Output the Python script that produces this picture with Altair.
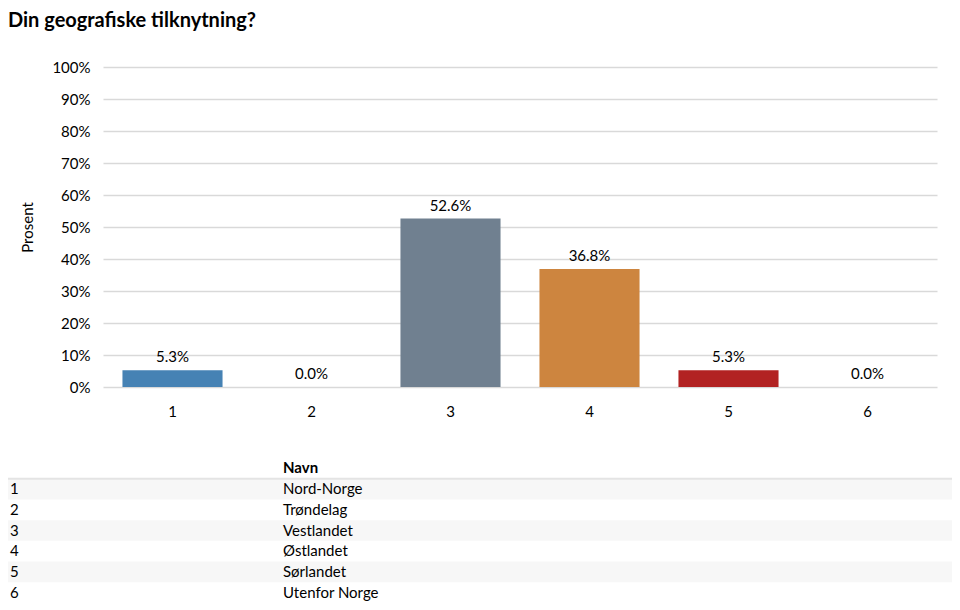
import altair as alt
import pandas as pd

# ---- data ----
categories = ["1", "2", "3", "4", "5", "6"]
names = ["Nord-Norge", "Trøndelag", "Vestlandet", "Østlandet", "Sørlandet", "Utenfor Norge"]
values = [0.0526, 0.0, 0.5263, 0.3684, 0.0526, 0.0]
bar_colors = ["#4682b4", "#8c8c8c", "#708090", "#cd853f", "#b22222", "#8c8c8c"]
y_ticks = [0, 0.1, 0.2, 0.3, 0.4, 0.5, 0.6, 0.7, 0.8, 0.9, 1.0]

FONT = "Lato"

bars_df = pd.DataFrame({"cat": categories, "val": values, "navn": names})

table_keys = ["h"] + categories
table_df = pd.DataFrame({
    "key": table_keys,
    "num": [""] + categories,
    "name": ["Navn"] + names,
    "bold": [True] + [False] * 6,
    "shade": [False, True, False, True, False, True, False],
})

x_enc = alt.X("cat:N", sort=categories,
              scale=alt.Scale(paddingInner=0.28, paddingOuter=0.14),
              axis=alt.Axis(title=None, labelAngle=0, ticks=False, domain=False,
                            labelPadding=17, labelFontSize=15, labelFont=FONT,
                            labelColor="#000000", grid=False))

y_enc = alt.Y("val:Q", scale=alt.Scale(domain=[0, 1], nice=False),
              axis=alt.Axis(title="Prosent", values=y_ticks, format=".0%",
                            labelOverlap=False, ticks=False, domain=False, labelPadding=13,
                            labelFontSize=15, labelFont=FONT, labelColor="#000000",
                            titleFont=FONT, titleFontSize=15, titleFontWeight="normal",
                            titleColor="#000000", titlePadding=16,
                            gridColor="#d9d9d9", gridWidth=1.5))

base = alt.Chart(bars_df)

bars = base.mark_bar().encode(
    x=x_enc,
    y=y_enc,
    color=alt.Color("cat:N", sort=categories,
                    scale=alt.Scale(domain=categories, range=bar_colors), legend=None),
)

labels = base.mark_text(dy=-13, baseline="middle", fontSize=15, font=FONT,
                        color="#000000").encode(
    x=x_enc,
    y=y_enc,
    text=alt.Text("val:Q", format=".1%"),
)

bar_layer = alt.layer(bars, labels)

row_scale = alt.Scale(domain=table_keys, range=[391, 536], paddingInner=0, paddingOuter=0)
row_y = alt.Y("key:N", sort=table_keys, scale=row_scale, axis=None)

tbase = alt.Chart(table_df)

shade = tbase.transform_filter("datum.shade").mark_rect(color="#f7f7f7").encode(
    y=row_y,
    x=alt.value(-95), x2=alt.value(854),
)

header_line = tbase.transform_filter("datum.key == 'h'").mark_rule(
    color="#e4e4e4", strokeWidth=2).encode(
    y=alt.Y("key:N", sort=table_keys, scale=row_scale, axis=None, bandPosition=1),
    x=alt.value(-95), x2=alt.value(854),
)

num_text = tbase.mark_text(align="left", baseline="middle", fontSize=15, font=FONT,
                           color="#000000").encode(
    y=row_y,
    x=alt.value(-93),
    text="num:N",
)

name_text = tbase.transform_filter("!datum.bold").mark_text(
    align="left", baseline="middle", fontSize=15, font=FONT, color="#000000").encode(
    y=row_y,
    x=alt.value(180),
    text="name:N",
)

header_text = tbase.transform_filter("datum.bold").mark_text(
    align="left", baseline="middle", fontSize=15, font=FONT, fontWeight="bold",
    color="#000000").encode(
    y=row_y,
    x=alt.value(180),
    text="name:N",
)

table_layer = alt.layer(shade, header_line, num_text, name_text, header_text)

chart = alt.layer(bar_layer, table_layer).resolve_scale(
    y="independent"
).properties(
    width=834,
    height=320,
    autosize="none",
    padding={"left": 95, "top": 59, "right": 15, "bottom": 215},
    title=alt.TitleParams("Din geografiske tilknytning?", anchor="start", frame="group",
                          dx=-95, offset=29, fontSize=20, fontWeight="bold", font=FONT,
                          color="#000000"),
).configure_view(stroke=None)

chart.save("out.html", embed_options={"renderer": "svg", "actions": False})
